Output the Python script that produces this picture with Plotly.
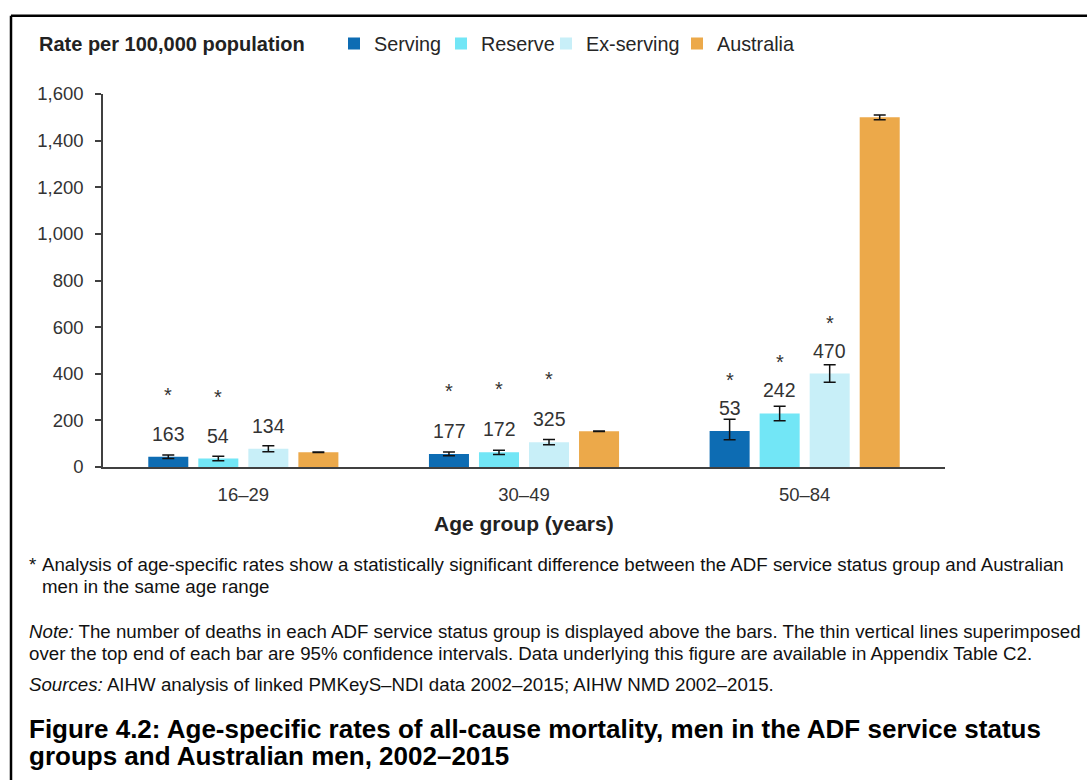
import plotly.graph_objects as go

# ---- data -------------------------------------------------------------
age_groups = ["16–29", "30–49", "50–84"]
series_names = ["Serving", "Reserve", "Ex-serving", "Australia"]

serving_rate = [44, 56, 154]
reserve_rate = [36, 63, 230]
exserving_rate = [78, 106, 401]
australia_rate = [63, 153, 1500]

serving_ci_low = [36, 48, 117]
serving_ci_high = [52, 64, 205]
reserve_ci_low = [27, 54, 198]
reserve_ci_high = [46, 72, 261]
exserving_ci_low = [65, 95, 364]
exserving_ci_high = [91, 118, 439]
australia_ci_low = [62, 152, 1490]
australia_ci_high = [64, 154, 1510]

# number of deaths shown above the ADF bars
serving_deaths = [163, 177, 53]
reserve_deaths = [54, 172, 242]
exserving_deaths = [134, 325, 470]

# statistically significant difference from Australian men
serving_sig = [True, True, True]
reserve_sig = [True, True, True]
exserving_sig = [False, True, True]

colors = ["#0D6CB3", "#72E6F6", "#C8EFF8", "#ECA94A"]

# ---- layout geometry (pixels) ------------------------------------------
W, H = 1087, 780
PL, PR = 103, 945          # plot area left / right
PT, PB = 93.5, 467.5        # plot area top / bottom


def px_x(x):
    return (x - PL) / (PR - PL)


def px_y(y):
    return (PB - y) / (PB - PT)


FONT = "Liberation Sans, Arial, sans-serif"

rates = [serving_rate, reserve_rate, exserving_rate, australia_rate]
lows = [serving_ci_low, reserve_ci_low, exserving_ci_low, australia_ci_low]
highs = [serving_ci_high, reserve_ci_high, exserving_ci_high, australia_ci_high]
legend_ids = ["legend", "legend2", "legend3", "legend4"]
legend_left = [334, 441, 546, 677]

fig = go.Figure()
for name, vals, lo, hi, col, lg in zip(series_names, rates, lows, highs, colors, legend_ids):
    fig.add_trace(go.Bar(
        name=name,
        x=age_groups,
        y=vals,
        legend=lg,
        marker=dict(color=col, line=dict(width=0)),
        error_y=dict(
            type="data",
            symmetric=False,
            array=[h - v for h, v in zip(hi, vals)],
            arrayminus=[v - l for v, l in zip(vals, lo)],
            color="#111111",
            thickness=1.5,
            width=6,
        ),
    ))

annotations = []

# death counts and significance markers above the ADF bars
deaths = [serving_deaths, reserve_deaths, exserving_deaths]
sigs = [serving_sig, reserve_sig, exserving_sig]
label_gap = 23              # px from bar top to centre of the count label
star_gap = [62, 63, 51]     # px from bar top to the significance marker
slot = 50                   # pixel width of one bar slot inside a group
for si, (d_list, s_list, vals) in enumerate(zip(deaths, sigs, rates[:3])):
    xshift = (si - 1.5) * slot
    for gi, grp in enumerate(age_groups):
        annotations.append(dict(
            x=grp, y=vals[gi], xref="x", yref="y",
            text=str(d_list[gi]), showarrow=False,
            xshift=xshift, yshift=label_gap, yanchor="middle",
            font=dict(family=FONT, size=19.5, color="#333333"),
        ))
        if s_list[gi]:
            annotations.append(dict(
                x=grp, y=vals[gi], xref="x", yref="y",
                text="*", showarrow=False,
                xshift=xshift, yshift=star_gap[gi], yanchor="middle",
                font=dict(family=FONT, size=20, color="#333333"),
            ))

# y-axis title above the axis
annotations.append(dict(
    x=px_x(37), y=px_y(43), xref="paper", yref="paper",
    text="<b>Rate per 100,000 population</b>", showarrow=False,
    xanchor="left", yanchor="middle",
    font=dict(family=FONT, size=20, color="#222222"),
))

# x-axis title
annotations.append(dict(
    x=px_x(524), y=px_y(524), xref="paper", yref="paper",
    text="<b>Age group (years)</b>", showarrow=False,
    xanchor="center", yanchor="middle",
    font=dict(family=FONT, size=21, color="#222222"),
))

# footnotes
foot_font = dict(family=FONT, size=18.7, color="#111111")
footnotes = [
    (27, 565, "*"),
    (40, 565, "Analysis of age-specific rates show a statistically significant difference between the ADF service status group and Australian"),
    (40, 587, "men in the same age range"),
    (27, 632, "<i>Note:</i> The number of deaths in each ADF service status group is displayed above the bars. The thin vertical lines superimposed"),
    (27, 654, "over the top end of each bar are 95% confidence intervals. Data underlying this figure are available in Appendix Table C2."),
    (27, 686, "<i>Sources:</i> AIHW analysis of linked PMKeyS–NDI data 2002–2015; AIHW NMD 2002–2015."),
]
for x, y, t in footnotes:
    annotations.append(dict(
        x=px_x(x), y=px_y(y), xref="paper", yref="paper",
        text=t, showarrow=False, xanchor="left", yanchor="middle",
        font=foot_font,
    ))

# figure caption
for y, t in [(730, "Figure 4.2: Age-specific rates of all-cause mortality, men in the ADF service status"),
             (757, "groups and Australian men, 2002–2015")]:
    annotations.append(dict(
        x=px_x(27), y=px_y(y), xref="paper", yref="paper",
        text="<b>" + t + "</b>", showarrow=False, xanchor="left", yanchor="middle",
        font=dict(family=FONT, size=26, color="#000000"),
    ))

# frame around the figure
shapes = [
    dict(type="line", xref="paper", yref="paper",
         x0=px_x(11), x1=px_x(1090), y0=px_y(15), y1=px_y(15),
         line=dict(color="#000000", width=2.5)),
    dict(type="line", xref="paper", yref="paper",
         x0=px_x(11), x1=px_x(11), y0=px_y(15), y1=px_y(790),
         line=dict(color="#000000", width=2.5)),
]

legend_style = dict(
    orientation="h", y=px_y(43), xanchor="left", yanchor="middle",
    font=dict(family=FONT, size=19.8, color="#262626"),
    itemwidth=30, bgcolor="rgba(0,0,0,0)",
)
legends = {lg: dict(legend_style, x=px_x(xl)) for lg, xl in zip(legend_ids, legend_left)}

fig.update_layout(
    width=W, height=H,
    margin=dict(l=PL, r=W - PR, t=PT, b=H - PB, pad=0),
    paper_bgcolor="white", plot_bgcolor="white",
    barmode="group", bargap=0.287, bargroupgap=0.2,
    font=dict(family=FONT, color="#333333"),
    showlegend=True,
    xaxis=dict(
        showline=True, linecolor="#404040", linewidth=1.5,
        ticks="", showgrid=False,
        tickfont=dict(family=FONT, size=18.5, color="#333333"),
        ticklabelstandoff=10,
    ),
    yaxis=dict(
        range=[0, 1600], tickvals=[0, 200, 400, 600, 800, 1000, 1200, 1400, 1600],
        tickformat=",", showline=True, linecolor="#404040", linewidth=1.5,
        ticks="outside", ticklen=6, tickcolor="#404040", tickwidth=1.5,
        showgrid=False, zeroline=False, ticklabelstandoff=8,
        tickfont=dict(family=FONT, size=18.5, color="#333333"),
    ),
    annotations=annotations,
    shapes=shapes,
    **legends,
)

fig.write_html("out.html")
